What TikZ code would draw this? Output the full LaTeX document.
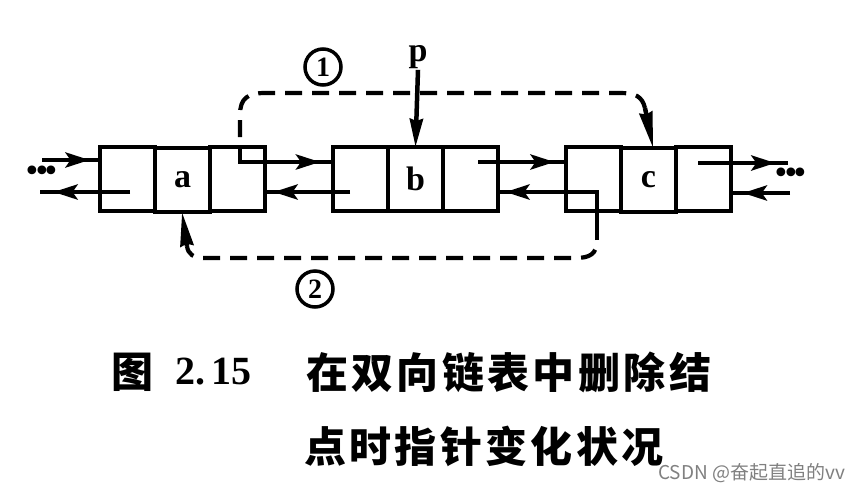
\documentclass[tikz,border=0pt]{standalone}
\usepackage{fontspec}
\setmainfont{Liberation Serif}
\newfontfamily\cjk{Noto Sans CJK SC}
\newfontfamily\cjksp[LetterSpace=8]{Noto Sans CJK SC}
\newfontfamily\dejavu{DejaVu Sans}
\usetikzlibrary{arrows.meta,decorations.markings}
\begin{document}
\begin{tikzpicture}[x=1pt,y=-1pt,
  field/.style={draw, line width=4.5pt, minimum width=55pt, minimum height=64pt, inner sep=0pt, outer sep=0pt},
  lbl/.style={font=\bfseries\fontsize{34}{34}\selectfont},
  ptr/.style={line width=4.5pt},
  dsh/.style={line width=4.2pt, dash pattern=on 17pt off 10pt, dash phase=17pt},
  midarrow/.style={postaction={decorate,decoration={markings,mark=at position #1 with {\arrow{Stealth[length=24pt,width=15pt,inset=5pt]}}}}},
  tip/.style={-{Stealth[length=#1,width=13pt,inset=2pt]}},
  circnum/.style={draw,circle,line width=3.5pt,minimum size=36pt,inner sep=0pt,font=\bfseries\fontsize{28}{28}\selectfont},
  dots/.style={font=\dejavu\fontsize{30}{30}\selectfont, inner sep=0pt},
  captxt/.style={inner sep=0pt, anchor=west}
]
\fill[white] (0,0) rectangle (862,491);
\useasboundingbox (0,0) rectangle (862,491);

% nodes (three fields each)
\node[field] (a1) at (127.5,179) {};
\node[field,lbl] (a2) at (182.5,180) {a};
\node[field] (a3) at (237.5,179) {};
\node[field] (b1) at (360.5,179) {};
\node[field,lbl] (b2) at (415.5,179) {b};
\node[field] (b3) at (470.5,179) {};
\node[field] (c1) at (593.5,179) {};
\node[field,lbl] (c2) at (648.5,180) {c};
\node[field] (c3) at (703.5,179) {};

% ellipses
\node[dots] (ldots) at (42,174) {•\kern-8pt•\kern-8pt•};
\node[dots] (rdots) at (791,176) {•\kern-8pt•\kern-8pt•};

% pointer coordinates
\coordinate (lU) at (42,160);
\coordinate (lL) at (40,192);
\coordinate (aP) at (130,192);
\coordinate (aN) at (240,162);
\coordinate (bP) at (350,192);
\coordinate (bN) at (478,162);
\coordinate (cP) at (597,192);
\coordinate (cPd) at (597,240);
\coordinate (cN) at (698,163);
\coordinate (rU) at (788,163);
\coordinate (rL) at (790,193);
\coordinate (k1) at (645,108);
\coordinate (k2) at (187,246);

% solid pointers
\draw[ptr,midarrow=0.82] (lU) -- (lU -| a1.west);
\draw[ptr,midarrow=0.85] (aP) -- (lL);
\draw[ptr,midarrow=0.88] (aN |- a3.north) -- (aN) -- (aN -| b1.west);
\draw[ptr,midarrow=0.9] (bP) -- (bP -| a3.east);
\draw[ptr,midarrow=0.87] (bN) -- (bN -| c1.west);
\draw[ptr,midarrow=0.95] (cPd) -- (cP) -- (cP -| b3.east);
\draw[ptr,midarrow=0.86] (cN) -- (rU);
\draw[ptr,midarrow=0.8] (rL) -- (rL -| c3.east);

% p pointer
\node[font=\bfseries\fontsize{34}{34}\selectfont, inner sep=1pt] (p) at (418,57) {p};
\draw[ptr,tip=28pt] (p.south) -- (b2.north);

% change 1: a->next = c
\draw[dsh] (aN |- a3.north) -- (240,115)
  .. controls (240,98) and (248,93) .. (265,93) -- (620,93)
  .. controls (635,93) and (642,96) .. (k1);
\draw[ptr,tip=36pt] (k1) -- (c2.north -| 653,0);
% change 2: c->prior = a
\draw[dsh] (cPd)
  .. controls (597,254) and (590,258) .. (575,258) -- (205,258)
  .. controls (193,258) and (188,254) .. (k2);
\draw[ptr,tip=34pt] (k2) -- (a2.south -| 182,0);

\node[circnum] (n1) at (323,67) {1};
\node[circnum] (n2) at (315,289) {2};

% caption
\node[captxt, font=\cjk\bfseries\fontsize{42}{42}\selectfont] (fig) at (111,372) {图};
\node[captxt, font=\bfseries\fontsize{40}{40}\selectfont] (num) at (175,372) {2.\,15};
\node[captxt, font=\cjksp\bfseries\fontsize{42}{42}\selectfont] (cap1) at (306,372) {在双向链表中删除结};
\node[captxt, font=\cjksp\bfseries\fontsize{42}{42}\selectfont] (cap2) at (304,446) {点时指针变化状况};
\node[captxt, font=\cjk\fontsize{19}{19}\selectfont, text=black!50] (wm) at (658,473) {CSDN @奋起直追的vv};
\end{tikzpicture}
\end{document}
